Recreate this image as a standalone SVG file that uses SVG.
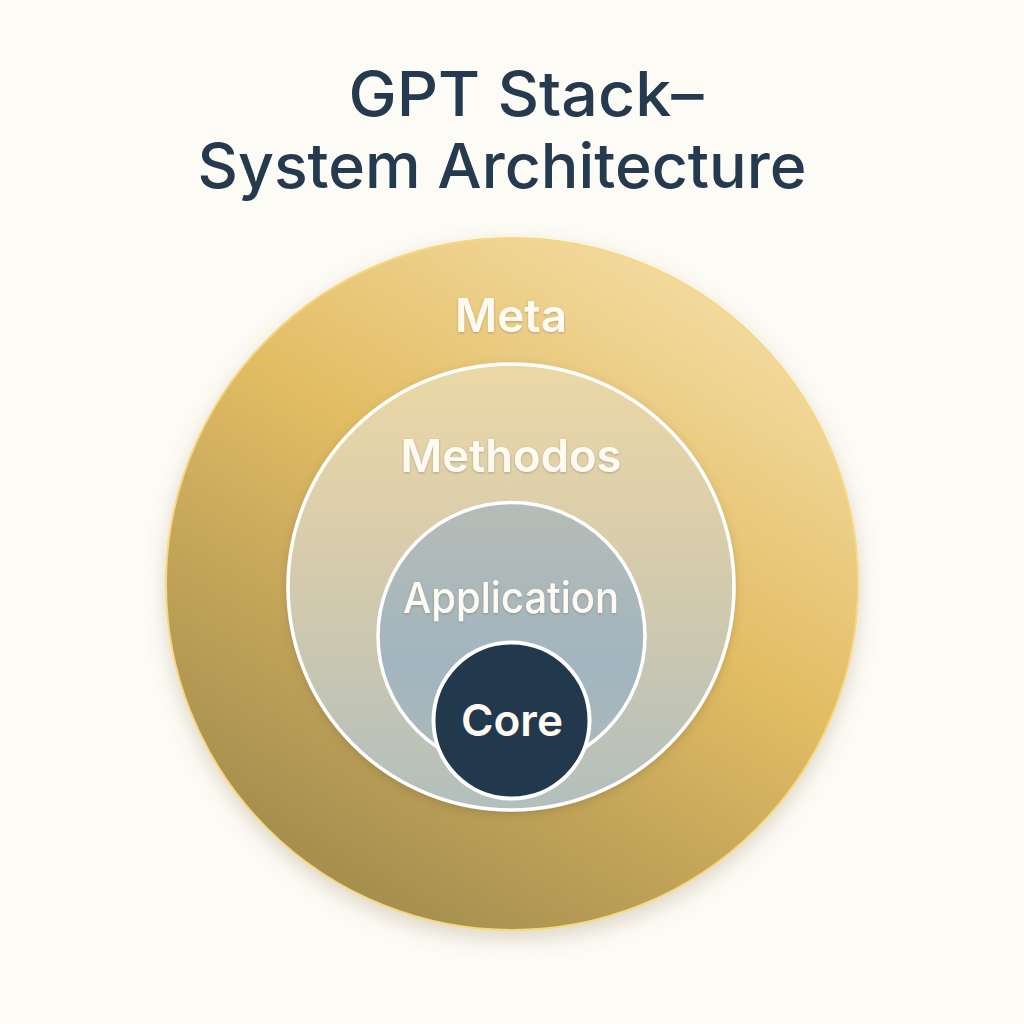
<svg xmlns="http://www.w3.org/2000/svg" width="1024" height="1024" viewBox="0 0 1024 1024">
  <defs>
    <linearGradient id="gOuter" x1="0.85" y1="0.08" x2="0.3" y2="0.95">
      <stop offset="0" stop-color="#f4dca3"/>
      <stop offset="0.45" stop-color="#e2bd64"/>
      <stop offset="1" stop-color="#a68f4f"/>
    </linearGradient>
    <linearGradient id="gMeth" x1="0.5" y1="0" x2="0.5" y2="1">
      <stop offset="0" stop-color="#ecd8a6"/>
      <stop offset="0.5" stop-color="#d3caad"/>
      <stop offset="1" stop-color="#b2bfbc"/>
    </linearGradient>
    <linearGradient id="gApp" x1="0.5" y1="0" x2="0.5" y2="1">
      <stop offset="0" stop-color="#b6bcb6"/>
      <stop offset="0.6" stop-color="#a2b5bf"/>
      <stop offset="1" stop-color="#aabbb8"/>
    </linearGradient>
    <filter id="shadow" x="-20%" y="-20%" width="140%" height="150%">
      <feDropShadow dx="0" dy="8" stdDeviation="10" flood-color="#7a6a3a" flood-opacity="0.25"/>
    </filter>
    <filter id="soft" x="-20%" y="-20%" width="140%" height="140%">
      <feDropShadow dx="0" dy="3" stdDeviation="4" flood-color="#5a5030" flood-opacity="0.25"/>
    </filter>
    <filter id="txt" x="-10%" y="-20%" width="120%" height="150%">
      <feDropShadow dx="0" dy="1" stdDeviation="1" flood-color="#4a4a3a" flood-opacity="0.35"/>
    </filter>
  </defs>
  <style>
    .title { font-family: Inter, "Liberation Sans", Arial, sans-serif; font-size: 62px; font-weight: 500; fill: #253a4e; text-anchor: middle; }
    .lbl { font-family: Inter, "Liberation Sans", Arial, sans-serif; fill: #fffbf2; text-anchor: middle; }
    .ring { stroke: #ffffff; stroke-width: 3.5; }
  </style>
  <rect width="1024" height="1024" fill="#fdfbf5"/>

  <g id="title">
    <text class="title" x="526" y="116" textLength="355" lengthAdjust="spacingAndGlyphs">GPT Stack–</text>
    <text class="title" x="502" y="188" textLength="609" lengthAdjust="spacingAndGlyphs">System Architecture</text>
  </g>

  <g id="meta">
    <circle cx="512" cy="584" r="346" fill="url(#gOuter)" stroke="#f6d880" stroke-width="2" filter="url(#shadow)"/>
    <text class="lbl" x="511" y="332" font-size="46" font-weight="600" textLength="112" lengthAdjust="spacingAndGlyphs" filter="url(#txt)">Meta</text>
  </g>

  <g id="methodos">
    <circle class="ring" cx="511" cy="587" r="223" fill="url(#gMeth)" filter="url(#soft)"/>
    <text class="lbl" x="511" y="472" font-size="45" font-weight="600" textLength="221" lengthAdjust="spacingAndGlyphs" filter="url(#txt)">Methodos</text>
  </g>

  <g id="application">
    <circle class="ring" cx="511.5" cy="636" r="133.5" fill="url(#gApp)"/>
    <text class="lbl" x="511" y="613" font-size="43" font-weight="500" textLength="216" lengthAdjust="spacingAndGlyphs" filter="url(#txt)">Application</text>
  </g>

  <g id="core">
    <circle cx="511.5" cy="720.5" r="78" fill="#22384d" stroke="#ffffff" stroke-width="4"/>
    <text class="lbl" x="512" y="736" font-size="44" font-weight="600" textLength="102" lengthAdjust="spacingAndGlyphs">Core</text>
  </g>

  <g id="connectors"/>
</svg>
